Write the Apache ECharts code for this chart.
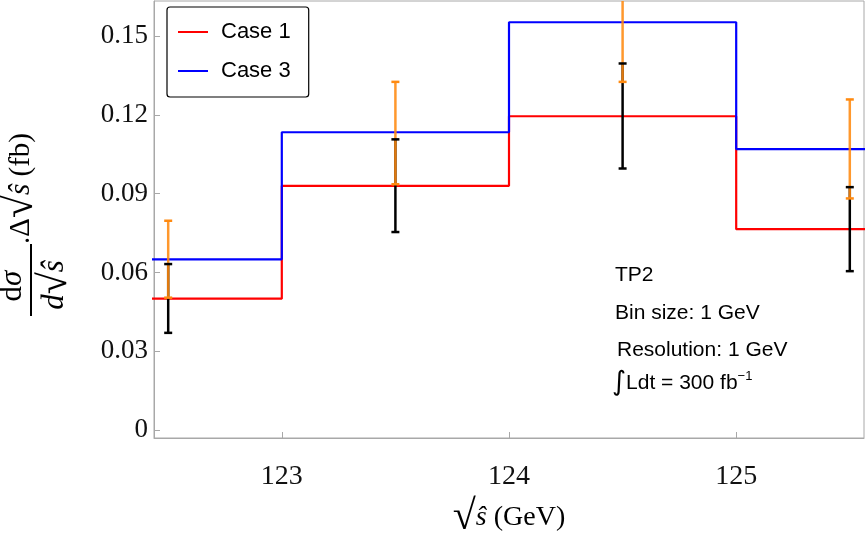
<!DOCTYPE html>
<html>
<head>
<meta charset="utf-8">
<script src="https://cdn.jsdelivr.net/npm/echarts@6/dist/echarts.min.js"></script>
<style>
  html, body { margin: 0; padding: 0; background: #fff; }
  #main { width: 865px; height: 534px; }
</style>
</head>
<body>
<div id="main"></div>
<script>
// 数据
const binEdges = [122, 123, 124, 125, 126]
const binCenters = [122.5, 123.5, 124.5, 125.5]
const case1 = [0.050, 0.093, 0.1195, 0.0765]
const case3 = [0.065, 0.1134, 0.1553, 0.107]
// 误差棒 (橙色 / 黑色)
const orangeLow = [0.0504, 0.0936, 0.1326, 0.0882]
const orangeHigh = [0.0797, 0.1326, 0.178, 0.1259]
const blackLow = [0.037, 0.0754, 0.0996, 0.0605]
const blackHigh = [0.0632, 0.1107, 0.1396, 0.0925]
const xTicks = [123, 124, 125]
const yTicks = [0, 0.03, 0.06, 0.09, 0.12, 0.15]

const serif = '"Liberation Serif", "DejaVu Serif", serif'
const sans = '"Liberation Sans", Arial, sans-serif'

// 阶梯线数据
const stepData = vals => binEdges.map((e, i) => [e, vals[Math.min(i, vals.length - 1)]])

const errData = binCenters.map((c, i) => [c, orangeLow[i], orangeHigh[i], blackLow[i], blackHigh[i]])

const myChart = echarts.init(document.querySelector('#main'))

const seg = (p1, p2, color, w, op) => ({
  type: 'line',
  shape: { x1: p1[0], y1: p1[1], x2: p2[0], y2: p2[1] },
  style: { stroke: color, lineWidth: w, opacity: op }
})

const option = {
  animation: false,
  grid: {
    left: 154, right: 1, top: 1, bottom: 96,
    show: true, borderColor: '#a8a8a8', borderWidth: 1
  },
  xAxis: {
    type: 'value',
    min: 122.4375,
    max: 125.5625,
    splitLine: { show: false },
    axisLine: { onZero: false, lineStyle: { color: '#a8a8a8' } },
    axisTick: { inside: true, length: 6, customValues: xTicks, lineStyle: { color: '#a8a8a8' } },
    axisLabel: { customValues: xTicks, margin: 25, color: '#111', fontFamily: serif, fontSize: 28 }
  },
  yAxis: {
    type: 'value',
    min: -0.00305,
    max: 0.1634,
    splitLine: { show: false },
    axisLine: { show: true, onZero: false, lineStyle: { color: '#a8a8a8' } },
    axisTick: { show: true, inside: true, length: 6, customValues: yTicks, lineStyle: { color: '#a8a8a8' } },
    axisLabel: { customValues: yTicks, margin: 6, color: '#111', fontFamily: serif, fontSize: 27,
      formatter: v => String(Math.round(v * 100) / 100) }
  },
  legend: {
    data: ['Case 1', 'Case 3'],
    orient: 'vertical',
    left: 167,
    top: 7,
    icon: 'rect',
    itemWidth: 30,
    itemHeight: 2,
    itemGap: 17,
    padding: [14, 18, 15, 11],
    borderColor: '#000',
    borderWidth: 1.2,
    borderRadius: 3,
    backgroundColor: '#fff',
    textStyle: { fontFamily: sans, fontSize: 22, color: '#000', padding: [0, 0, 0, 8] }
  },
  series: [
    {
      name: 'Case 1',
      type: 'line',
      step: 'end',
      data: stepData(case1),
      symbol: 'none',
      lineStyle: { color: '#ff0000', width: 2.2 },
      itemStyle: { color: '#ff0000' },
      z: 3
    },
    {
      name: 'Case 3',
      type: 'line',
      step: 'end',
      data: stepData(case3),
      symbol: 'none',
      lineStyle: { color: '#0000ff', width: 2.2 },
      itemStyle: { color: '#0000ff' },
      z: 3
    },
    {
      name: 'err',
      type: 'custom',
      clip: true,
      z: 4,
      encode: { x: 0, y: [1, 2, 3, 4] },
      data: errData,
      renderItem: (params, api) => {
        const x = api.value(0)
        const ob = api.coord([x, api.value(1)])
        const ot = api.coord([x, api.value(2)])
        const bb = api.coord([x, api.value(3)])
        const bt = api.coord([x, api.value(4)])
        const c = 4
        const cap = (p, color) => seg([p[0] - c, p[1]], [p[0] + c, p[1]], color, 2.5, 1)
        return {
          type: 'group',
          children: [
            seg(bb, bt, '#000', 2.5, 1),
            seg(ob, ot, '#ff8a10', 2.5, 0.88),
            cap(ob, '#ff8a10'),
            cap(ot, '#ff8a10'),
            cap(bb, '#000'),
            cap(bt, '#000')
          ]
        }
      }
    }
  ],
  graphic: [
    // y 轴标题
    {
      type: 'group', x: 31, y: 316, rotation: Math.PI / 2,
      children: [
        { type: 'line', shape: { x1: 0, y1: 0, x2: 72, y2: 0 }, style: { stroke: '#000', lineWidth: 2 } },
        { type: 'text', x: 30, y: -3, style: {
          text: 'd{i|σ}', font: '31px ' + serif, fill: '#000', textAlign: 'center', textVerticalAlign: 'bottom',
          rich: { i: { fontFamily: serif, fontSize: 31, fontStyle: 'italic' } } } },
        { type: 'text', x: 31, y: 4, style: {
          text: '{i|d}{r|√}{i|ŝ}', fill: '#000', textAlign: 'center', textVerticalAlign: 'top',
          rich: {
            i: { fontFamily: serif, fontSize: 31, fontStyle: 'italic' },
            r: { fontFamily: serif, fontSize: 40 }
          } } },
        { type: 'text', x: 72, y: -10, style: {
          text: '{n|.Δ}{r|√}{i|ŝ}{n| (fb)}', fill: '#000', textAlign: 'left', textVerticalAlign: 'middle',
          rich: {
            n: { fontFamily: serif, fontSize: 29 },
            i: { fontFamily: serif, fontSize: 29, fontStyle: 'italic' },
            r: { fontFamily: serif, fontSize: 42 }
          } } }
      ]
    },
    // x 轴标题
    {
      type: 'text', x: 509, y: 518, style: {
        text: '{r|√}{i|ŝ}{n| (GeV)}', fill: '#000', textAlign: 'center', textVerticalAlign: 'middle',
        rich: {
          n: { fontFamily: serif, fontSize: 28 },
          i: { fontFamily: serif, fontSize: 28, fontStyle: 'italic' },
          r: { fontFamily: serif, fontSize: 42 }
        }
      }
    },
    // 注释
    { type: 'text', x: 615, y: 275, style: { text: 'TP2', font: '21px ' + sans, fill: '#000', textVerticalAlign: 'middle' } },
    { type: 'text', x: 615, y: 313, style: { text: 'Bin size: 1 GeV', font: '21px ' + sans, fill: '#000', textVerticalAlign: 'middle' } },
    { type: 'text', x: 617, y: 350, style: { text: 'Resolution: 1 GeV', font: '21px ' + sans, fill: '#000', textVerticalAlign: 'middle' } },
    {
      type: 'text', x: 612, y: 383, style: {
        text: '{g|∫}{n|Ldt = 300 fb}{s|−1}', fill: '#000', textVerticalAlign: 'middle',
        rich: {
          g: { fontFamily: '"DejaVu Sans", sans-serif', fontSize: 27 },
          n: { fontFamily: sans, fontSize: 21 },
          s: { fontFamily: sans, fontSize: 13, padding: [0, 0, 14, 0] }
        }
      }
    }
  ]
}

myChart.setOption(option)
</script>
</body>
</html>
